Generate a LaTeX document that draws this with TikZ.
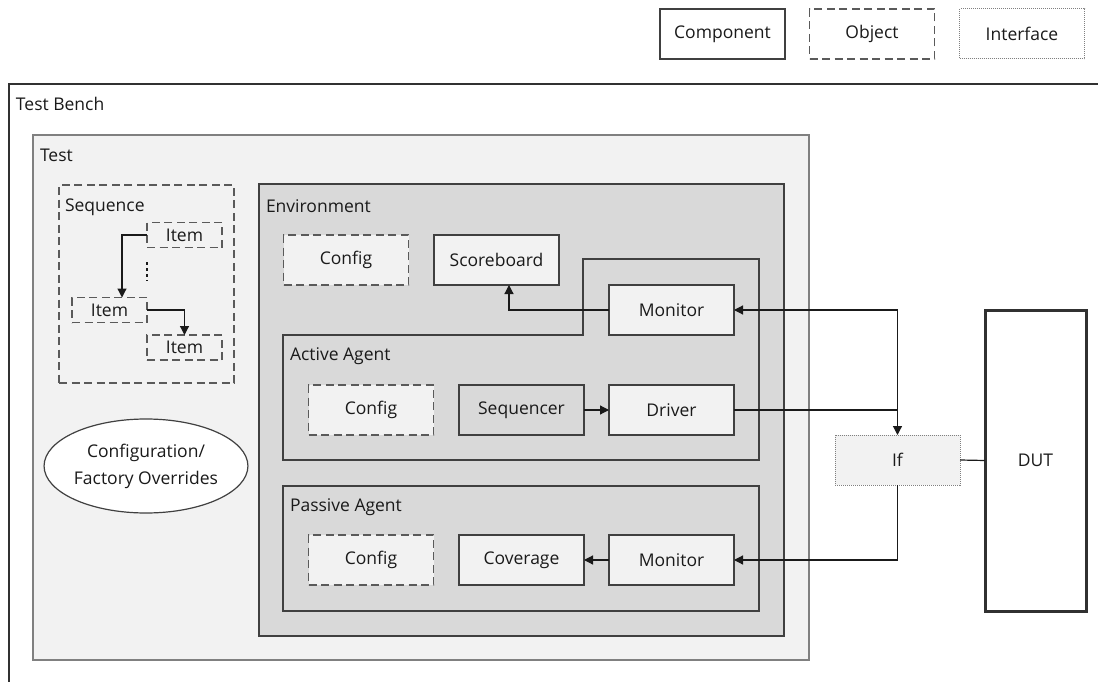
\documentclass[tikz,border=0pt]{standalone}
\usepackage{fontspec}
\setmainfont{Open Sans}
\usetikzlibrary{arrows.meta,shapes.geometric,calc}

\definecolor{lightfill}{HTML}{F2F2F2}
\definecolor{midfill}{HTML}{D9D9D9}
\definecolor{edge}{HTML}{404040}
\definecolor{ink}{HTML}{1A1A1A}
\definecolor{dashgray}{HTML}{5A5A5A}

\tikzset{
  every node/.style={font=\fontsize{17.5}{27}\selectfont, text=ink, inner sep=0pt, outer sep=0pt},
  comp/.style={draw=edge, line width=1.2pt, fill=lightfill, minimum width=125pt, minimum height=50pt},
  obj/.style={draw=dashgray, line width=1.6pt, dash pattern=on 8pt off 4.5pt, fill=lightfill, minimum width=125pt, minimum height=50pt},
  iface/.style={draw=gray, line width=1pt, dash pattern=on 1pt off 1pt, fill=lightfill, minimum width=125pt, minimum height=50pt},
  itembox/.style={draw=dashgray, line width=1.6pt, dash pattern=on 8pt off 4.5pt, minimum width=75pt, minimum height=25pt},
  container/.style={draw=edge, line width=1.2pt, fill=midfill},
  title/.style={anchor=west},
  conn/.style={draw=ink, line width=1.2pt},
  arr/.style={conn, -{Triangle[length=9pt,width=9pt]}},
}

\begin{document}
\begin{tikzpicture}[x=1pt,y=-1pt]
\useasboundingbox (0,0) rectangle (1098,682);

% legend
\node[comp, fill=white] (lgcomp) at (722.5,34) {Component};
\node[obj, fill=white] (lgobj) at (872,34) {Object};
\node[iface, fill=white] (lgif) at (1022,34) {Interface};

% test bench frame (open to the right and bottom)
\draw[draw=ink!90, line width=1.5pt] (9,682) -- (9,84) -- (1098,84);
\node[title] (tbl) at (16,104) {Test Bench};

% test
\node[draw=gray, line width=2pt, fill=lightfill, minimum width=776pt, minimum height=525pt] (test) at (421,397.5) {};
\node[title] (testl) at (40,155) {Test};

% sequence with items
\node[draw=dashgray, line width=1.6pt, dash pattern=on 8pt off 4.5pt, minimum width=175pt, minimum height=198pt] (seqbox) at (146.5,284) {};
\node[title] (seql) at (65,207) {Sequence};
\node[itembox] (it1) at (184.5,235) {Item};
\node[itembox] (it2) at (109.5,310) {Item};
\node[itembox] (it3) at (184.5,347.5) {Item};
\draw[arr] (it1.west) -| ([xshift=12.5pt]it2.north);
\draw[arr] (it2.east) -| (it3.north);
\coordinate (dtop) at (147,262);
\coordinate (dbot) at (147,281);
\draw[draw=ink, line width=2pt, dash pattern=on 3pt off 3pt] (dtop) -- (dbot);

% configuration ellipse
\node[ellipse, draw=edge, line width=1.2pt, fill=white, minimum width=176pt, minimum height=94pt, align=center] (cfo) at (146,466) {Configuration/\\Factory Overrides};

% environment
\node[container, minimum width=525pt, minimum height=452pt] (env) at (521.5,410) {};
\node[title] (envl) at (266,206) {Environment};
\node[obj] (envcfg) at (346,260) {Config};
\node[comp] (sb) at (496.5,260) {Scoreboard};

% active agent (its top edge steps up around the monitor)
\draw[container] (283,460) -- (283,335) -- (583,335) -- (583,259) -- (759,259) -- (759,460) -- cycle;
\node[title] (aal) at (290,356) {Active Agent};
\node[comp] (mona) at (671.5,310) {Monitor};
\node[obj] (acfg) at (371,410) {Config};
\node[comp, fill=midfill] (sqr) at (521.5,410) {Sequencer};
\node[comp] (drv) at (671.5,410) {Driver};

% passive agent
\node[container, minimum width=476pt, minimum height=125pt] (pa) at (521,548.5) {};
\node[title] (pal) at (290,507) {Passive Agent};
\node[obj] (pcfg) at (371,560) {Config};
\node[comp] (cov) at (521.5,560) {Coverage};
\node[comp] (monp) at (671.5,560) {Monitor};

% interface and DUT
\node[iface] (if) at (897.5,460) {If};
\node[draw=ink!90, line width=3pt, fill=white, minimum width=101pt, minimum height=301pt] (dut) at (1035.5,460.5) {DUT};

% connections
\draw[arr] (mona.west) -| ([xshift=12.5pt]sb.south);
\draw[arr] (sqr.east) -- (drv.west);
\draw[arr] (drv.east) -| (if.north);
\coordinate (jn) at (drv.east -| if.north);
\draw[arr] (jn) |- (mona.east);
\draw[arr] (if.south) |- (monp.east);
\draw[arr] (monp.west) -- (cov.east);
\draw[conn] (if.east) -- (dut.west);
\end{tikzpicture}
\end{document}
